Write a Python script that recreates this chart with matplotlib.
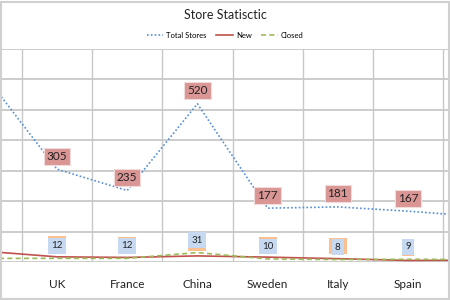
import matplotlib
matplotlib.use("Agg")
import matplotlib.pyplot as plt
from matplotlib.patches import Rectangle

plt.rcParams['font.family'] = ['Lato', 'DejaVu Sans']

# categories (first and last are cut off by the frame in the original)
countries = ["Germany", "UK", "France", "China", "Sweden", "Italy", "Spain", "Other"]
total_stores = [605, 305, 235, 520, 177, 181, 167, 150]
new_stores = [35, 17, 15, 20, 16, 11, 5, 6]
closed_stores = [12, 12, 12, 31, 10, 8, 9, 8]

x = list(range(len(countries)))

fig = plt.figure(figsize=(4.5, 3), dpi=100)
ax = fig.add_axes([0, 38 / 300, 1, (262 - 49) / 300])

ax.plot(x, total_stores, color="#558ed5", lw=1.2, ls=(0, (1, 1.3)), label="Total Stores")
ax.plot(x, new_stores, color="#c0504d", lw=1.2, label="New")
ax.plot(x, closed_stores, color="#9bbb59", lw=1.2, ls=(0, (3, 2)), label="Closed")

ax.set_xlim(1 - 57 / 70.2, 1 + 393 / 70.2)
ax.set_ylim(0, 700)

# gridlines between categories, like excel
ax.set_xticks([i + 0.5 for i in x[:-1]], minor=True)
ax.set_xticks(x[1:-1])
ax.set_xticklabels(countries[1:-1], fontsize=8.5, color="#222222")
ax.set_yticks(range(0, 701, 100))
ax.set_yticklabels([])
ax.grid(True, which="minor", axis="x", color="#c8c8c8", lw=1)
ax.grid(True, which="major", axis="y", color="#c8c8c8", lw=1.3)
ax.tick_params(axis="x", which="both", length=0, pad=12)
ax.tick_params(axis="y", length=0)
for s in ax.spines.values():
    s.set_visible(False)

for i in x[1:-1]:
    ax.annotate(str(new_stores[i]), (i, new_stores[i]), xytext=(0, 9), textcoords="offset points",
                ha="center", va="center", fontsize=7, color="#fac090",
                bbox=dict(boxstyle="square,pad=0.35", fc="#fac090", ec="none"))
    ax.annotate(str(closed_stores[i]), (i, closed_stores[i]), xytext=(0, 9), textcoords="offset points",
                ha="center", va="center", fontsize=7, color="#222222",
                bbox=dict(boxstyle="square,pad=0.35", fc="#c6d9f1", ec="none"))
    ax.annotate(str(total_stores[i]), (i, total_stores[i]), xytext=(0, 9.4), textcoords="offset points",
                ha="center", va="center", fontsize=8.5, color="#222222",
                bbox=dict(boxstyle="square,pad=0.25", fc="#d99694", ec="#f2dcdb", lw=0.8))

fig.text(0.5, 1 - 15 / 300, "Store Statisctic", ha="center", va="center", fontsize=9, color="#222222")
fig.legend(loc="center", bbox_to_anchor=(0.5, 1 - 35 / 300), ncol=3, fontsize=5.5, frameon=False,
           handlelength=2.2, columnspacing=1.2, handletextpad=0.4)

fig.patches.append(Rectangle((0.002, 0.005), 0.996, 0.99, transform=fig.transFigure,
                             fill=False, ec="#d0d0d0", lw=1.5))

fig.savefig("out.png", dpi=100)
